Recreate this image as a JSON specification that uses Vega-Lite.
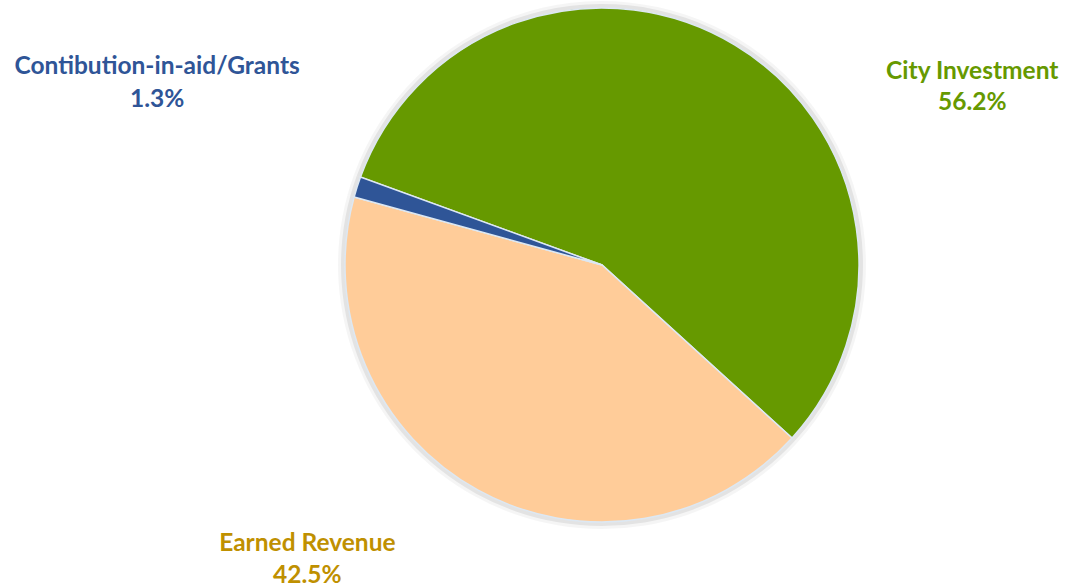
{
  "$schema": "https://vega.github.io/schema/vega-lite/v6.json",
  "width": 514,
  "height": 514,
  "autosize": {"type": "none"},
  "padding": {"left": 345, "top": 8, "right": 207, "bottom": 66},
  "background": "white",
  "view": {"stroke": null},
  "data": {
    "values": [
      {"category": "City Investment", "share": 56.2, "order": 1, "label": "City Investment\n56.2%"},
      {"category": "Earned Revenue", "share": 42.5, "order": 2, "label": "Earned Revenue\n42.5%"},
      {"category": "Contibution-in-aid/Grants", "share": 1.3, "order": 3, "label": "Contibution-in-aid/Grants\n1.3%"}
    ]
  },
  "encoding": {
    "theta": {"field": "share", "type": "quantitative", "stack": true, "scale": {"range": [5.0615, 11.3447]}},
    "order": {"field": "order", "type": "quantitative"}
  },
  "layer": [
    {"mark": {"type": "arc", "radius": 264, "color": "#000000", "opacity": 0.04, "strokeWidth": 0}},
    {"mark": {"type": "arc", "radius": 261, "color": "#000000", "opacity": 0.07, "strokeWidth": 0}},
    {
      "mark": {"type": "arc", "stroke": "#dde8f3", "strokeWidth": 1.5},
      "encoding": {
        "color": {
          "field": "category", "type": "nominal", "legend": null,
          "scale": {"domain": ["City Investment", "Earned Revenue", "Contibution-in-aid/Grants"], "range": ["#669900", "#FFCC99", "#2F5597"]}
        }
      }
    },
    {
      "mark": {"type": "text", "radius": 300, "dx": 215, "dy": 64, "font": "Lato", "fontWeight": "bold", "fontSize": 24.5, "lineHeight": 31, "lineBreak": "\n", "align": "center", "baseline": "middle", "color": "#669900"},
      "encoding": {"text": {"condition": {"test": "datum.order == 1", "field": "label"}, "value": ""}}
    },
    {
      "mark": {"type": "text", "radius": 300, "dx": -150, "dy": 16, "font": "Lato", "fontWeight": "bold", "fontSize": 24.5, "lineHeight": 32, "lineBreak": "\n", "align": "center", "baseline": "middle", "color": "#BF9000"},
      "encoding": {"text": {"condition": {"test": "datum.order == 2", "field": "label"}, "value": ""}}
    },
    {
      "mark": {"type": "text", "radius": 300, "dx": -159, "dy": -107, "font": "Lato", "fontWeight": "bold", "fontSize": 24.5, "lineHeight": 33, "lineBreak": "\n", "align": "center", "baseline": "middle", "color": "#2F5597"},
      "encoding": {"text": {"condition": {"test": "datum.order == 3", "field": "label"}, "value": ""}}
    }
  ]
}
